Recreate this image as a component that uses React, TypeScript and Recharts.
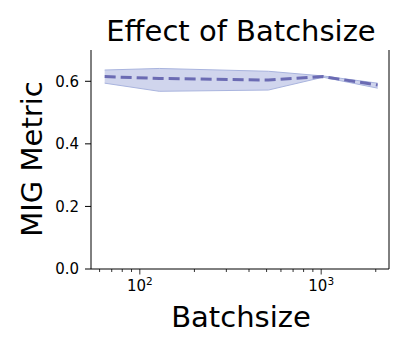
import { ComposedChart, Area, Line, XAxis, YAxis } from "recharts"

const batchSizes = [64, 128, 512, 1024, 2048]
const migMean = [0.615, 0.609, 0.604, 0.615, 0.588]
const migLow = [0.594, 0.568, 0.572, 0.613, 0.578]
const migHigh = [0.636, 0.641, 0.632, 0.617, 0.594]

const xTicks = [60, 70, 80, 90, 100, 200, 300, 400, 500, 600, 700, 800, 900, 1000, 2000]
const majorTicks: Record<number, string> = { 100: "2", 1000: "3" }
const yTicks = [0, 0.2, 0.4, 0.6]

const data = batchSizes.map((b, i) => ({
  batch: b,
  mean: migMean[i],
  band: [migLow[i], migHigh[i]],
}))

const font = "DejaVu Sans, sans-serif"

function LogTick(props: any) {
  const { x, y, payload } = props
  const exp = majorTicks[payload.value]
  if (!exp) {
    return <line x1={x} x2={x} y1={y} y2={y + 3} stroke="#000" strokeWidth={0.8} />
  }
  return (
    <g>
      <line x1={x} x2={x} y1={y} y2={y + 5.5} stroke="#000" strokeWidth={0.8} />
      <text x={x} y={y + 22} textAnchor="middle" fontFamily={font} fontSize={15} fill="#000">
        10
        <tspan dy={-6.5} fontSize={10.5}>{exp}</tspan>
      </text>
    </g>
  )
}

export default function App() {
  return (
    <div style={{ position: "absolute", left: 0, top: 0, width: 415, height: 356, background: "#fff" }}>
      <ComposedChart width={415} height={356} data={data} margin={{ top: 50, right: 25, bottom: 57, left: 0 }}>
        <XAxis
          dataKey="batch"
          type="number"
          scale="log"
          domain={[53.8, 2366]}
          ticks={xTicks}
          allowDataOverflow
          tick={<LogTick />}
          tickLine={false}
          tickSize={0}
          tickMargin={0}
          axisLine={{ stroke: "#000", strokeWidth: 1 }}
          height={30}
          interval={0}
        />
        <XAxis xAxisId="top" orientation="top" dataKey="batch" type="number" scale="log" domain={[53.8, 2366]} allowDataOverflow tick={false} tickLine={false} height={0} axisLine={{ stroke: "#000", strokeWidth: 1 }} />
        <YAxis
          domain={[0, 0.7]}
          ticks={yTicks}
          width={91}
          tickFormatter={(v: number) => v.toFixed(1)}
          tick={{ fontFamily: font, fontSize: 15, fill: "#000" }}
          tickSize={6}
          tickMargin={6}
          tickLine={{ stroke: "#000" }}
          axisLine={{ stroke: "#000", strokeWidth: 1 }}
        />
        <YAxis yAxisId="right" orientation="right" domain={[0, 0.7]} width={1} tick={false} tickLine={false} axisLine={{ stroke: "#000", strokeWidth: 1 }} />
        <Area
          dataKey="band"
          type="linear"
          fill="#c4cbe8"
          fillOpacity={0.8}
          stroke="#a9b4de"
          strokeWidth={1}
          isAnimationActive={false}
        />
        <Line
          dataKey="mean"
          type="linear"
          stroke="#6b6bb3"
          strokeWidth={3}
          strokeDasharray="11 5"
          dot={false}
          isAnimationActive={false}
        />
      </ComposedChart>
      <svg width={415} height={356} style={{ position: "absolute", left: 0, top: 0, pointerEvents: "none" }}>
        <text x={241} y={41} textAnchor="middle" fontFamily={font} fontSize={29} fill="#000">
          Effect of Batchsize
        </text>
        <text x={241} y={327} textAnchor="middle" fontFamily={font} fontSize={29} fill="#000">
          Batchsize
        </text>
        <text x={42} y={159} textAnchor="middle" fontFamily={font} fontSize={29} fill="#000" transform="rotate(-90 42 159)">
          MIG Metric
        </text>
      </svg>
    </div>
  )
}
